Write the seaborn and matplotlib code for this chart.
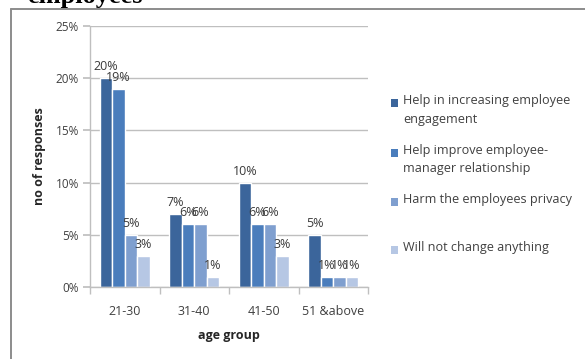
import matplotlib
matplotlib.use("Agg")
import matplotlib.pyplot as plt
from matplotlib.patches import Rectangle
from matplotlib.lines import Line2D
import seaborn as sns
import pandas as pd

# Survey shares (% of responses) per age group and opinion
age_groups = ["21-30", "31-40", "41-50", "51 &above"]
series_names = [
    "Help in increasing employee\nengagement",
    "Help improve employee-\nmanager relationship",
    "Harm the employees privacy",
    "Will not change anything",
]
engagement = [20, 7, 10, 5]
relationship = [19, 6, 6, 1]
privacy = [5, 6, 6, 1]
no_change = [3, 1, 3, 1]
y_ticks = [0, 5, 10, 15, 20, 25]

colors = ["#3b659b", "#4a7dbc", "#7f9fcf", "#b6c7e4"]

rows = []
for name, vals in zip(series_names, [engagement, relationship, privacy, no_change]):
    for g, v in zip(age_groups, vals):
        rows.append({"age group": g, "opinion": name, "share": v})
df = pd.DataFrame(rows)

sns.set_theme(style="white")
plt.rcParams["font.family"] = ["Open Sans", "DejaVu Sans"]

fig = plt.figure(figsize=(5.85, 3.59), dpi=100)
W, H = 585, 359

# outer chart frame (left and top edges visible)
fig.add_artist(Line2D([11 / W, 11 / W], [0, 1 - 9 / H], transform=fig.transFigure,
                      color="#8c8c8c", lw=1.4))
fig.add_artist(Line2D([11 / W, 1], [1 - 9 / H, 1 - 9 / H], transform=fig.transFigure,
                      color="#8c8c8c", lw=1.4))

# heading text above the frame, cut by the top edge
fig.text(27 / W, 1 - 3 / H, "employees", family="Liberation Serif", fontweight="bold",
         fontsize=19, color="black", ha="left", va="baseline")

ax = fig.add_axes([90 / W, 1 - 287 / H, (368 - 90) / W, (287 - 26) / H])
sns.barplot(data=df, x="age group", y="share", hue="opinion", palette=colors,
            width=0.72, gap=0, saturation=1, ax=ax, legend=False, errorbar=None)

for cont in ax.containers:
    ax.bar_label(cont, fmt="%g%%", padding=3.5, fontsize=9, color="#3a3a3a")

ax.set_ylim(0, 25)
ax.set_xlim(-0.5, 3.5)
ax.set_yticks(y_ticks)
ax.set_yticklabels([f"{t}%" for t in y_ticks])
ax.yaxis.grid(True, color="#bfbfbf", lw=1)
ax.set_axisbelow(True)
for s in ["top", "right"]:
    ax.spines[s].set_visible(False)
for s in ["left", "bottom"]:
    ax.spines[s].set_color("#bfbfbf")
    ax.spines[s].set_linewidth(1)

ax.set_xticks([-0.5, 0.5, 1.5, 2.5, 3.5], minor=True)
ax.tick_params(axis="x", which="major", length=0, pad=13, labelsize=9, labelcolor="#404040")
ax.tick_params(axis="x", which="minor", length=5, color="#bfbfbf", direction="out", bottom=True)
ax.tick_params(axis="y", length=5, color="#bfbfbf", direction="out", left=True,
               labelsize=8.5, labelcolor="#404040", pad=3)

ax.set_xlabel("age group", fontweight="bold", fontsize=9, color="#262626", labelpad=8)
ax.set_ylabel("no of responses", fontweight="bold", fontsize=9, color="#262626", labelpad=7)

# legend entries stacked evenly beside the plot
legend_y = [103, 153, 202, 250]
for name, col, yy in zip(series_names, colors, legend_y):
    fig.add_artist(Rectangle((391 / W, 1 - (yy + 4) / H), 7 / W, 8 / H,
                             transform=fig.transFigure, facecolor=col, edgecolor="none"))
    fig.text(403 / W, 1 - (yy - 9) / H, name, fontsize=9.1, color="#404040",
             ha="left", va="top", linespacing=1.55)

fig.savefig("out.png", dpi=100)
